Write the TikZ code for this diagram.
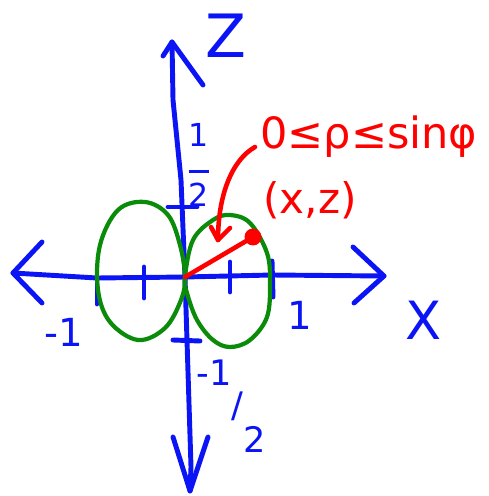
\documentclass[tikz,border=0pt]{standalone}
\usepackage{fontspec}
\setmainfont{DejaVu Sans}
\usetikzlibrary{arrows.meta}
\definecolor{axblue}{RGB}{10,20,245}
\definecolor{lobegreen}{RGB}{10,140,10}
\definecolor{penred}{RGB}{255,0,0}
\begin{document}
\begin{tikzpicture}[x=0.02cm,y=-0.02cm,
  ax/.style={draw=axblue,line width=2.8pt,line cap=round,line join=round},
  lobe/.style={draw=lobegreen,line width=2.4pt,line join=round},
  rd/.style={draw=penred,line width=2.6pt,line cap=round,line join=round},
  bl/.style={text=axblue,inner sep=0pt},
  rl/.style={text=penred,inner sep=0pt}]
\useasboundingbox (0,0) rectangle (489,496);
\coordinate (O) at (185,277);
% x axis
\coordinate (XL) at (13,273);
\coordinate (XR) at (384,276);
\draw[ax] (XL) -- (97,278) -- (O) -- (272,275) -- (XR);
\draw[ax] (42,242) -- (XL) -- (42,303);
\draw[ax] (353,247) -- (XR) -- (354,303);
% z axis
\coordinate (ZT) at (172,42);
\coordinate (ZB) at (190,491);
\draw[ax] (ZT) -- (173,100) -- (181,180) -- (O) -- (191,467) -- (ZB);
\draw[ax] (163,56) -- (ZT) -- (203,85);
\draw[ax] (173,437) -- (ZB) -- (208,437);
% ticks
\draw[ax] (97,266) -- (97,304);
\draw[ax] (144,267) -- (144,298);
\draw[ax] (230,262) -- (230,292);
\draw[ax] (272,261) -- (273,297);
\draw[ax] (168,207) -- (197,207);
\draw[ax] (173,340) -- (200,341);
% green lobes
\draw[lobe] plot[smooth cycle,tension=0.6] coordinates {(185,277) (180,245) (168,215) (145,202) (118,210) (100,245) (98,290) (110,322) (138,340) (165,328) (181,300)};
\draw[lobe] plot[smooth cycle,tension=0.6] coordinates {(185,277) (193,240) (213,220) (230,215) (250,223) (267,253) (270,283) (267,317) (250,340) (230,347) (213,340) (197,320) (187,293)};
% red
\node[circle,fill=penred,minimum size=0.34cm,inner sep=0pt] (P) at (253,237) {};
\draw[rd] (O) -- (P.center);
\coordinate (AS) at (255,147);
\coordinate (AT) at (218,240);
\draw[rd] (AS) .. controls (232,160) and (218,195) .. (AT);
\draw[rd] (211,227) -- (AT) -- (230,228);
\node[rl,anchor=base west,font=\fontsize{24.5}{28}\selectfont] (rho) at (260,149) {0≤ρ≤sinφ};
\node[rl,anchor=base west,font=\fontsize{24}{28}\selectfont] (xz) at (263,214) {(x,z)};
% blue labels
\node[bl,anchor=base west,font=\fontsize{34}{38}\selectfont] (zlab) at (205,58) {Z};
\node[bl,font=\fontsize{30}{34}\selectfont] (xlab) at (424,320) {X};
\node[bl,font=\fontsize{22}{26}\selectfont] (m1) at (64,332) {-1};
\node[bl,font=\fontsize{22}{26}\selectfont] (p1) at (300,315) {1};
\node[bl,font=\fontsize{18}{20}\selectfont,align=center] (half) at (199,165) {1\\[-5pt]\rule{0.65em}{1.8pt}\\[-1pt]2};
\node[bl,font=\fontsize{20}{24}\selectfont,anchor=north west] (mhalf) at (196,360) {-1\raisebox{-0.9em}{/}\raisebox{-1.9em}{2}};
\end{tikzpicture}
\end{document}
